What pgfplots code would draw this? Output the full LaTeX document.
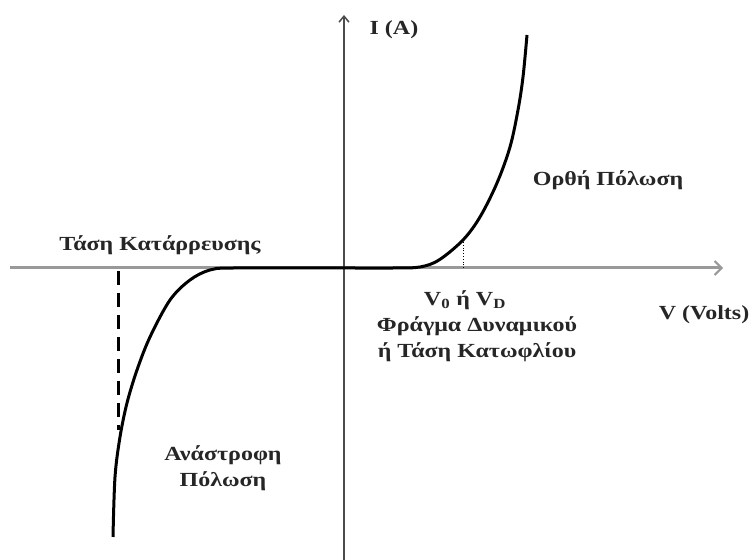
\documentclass[border=0pt]{standalone}
\usepackage{fontspec}
\setmainfont{Liberation Serif}
\usepackage{graphicx}
\usepackage{pgfplots}
\pgfplotsset{compat=1.18}
\usetikzlibrary{arrows.meta}
\newcommand\wide[1]{\scalebox{1.2}[1]{#1}}
\tikzset{lbl/.style={font=\fontsize{20bp}{26bp}\selectfont\bfseries, text=black!85, align=center, inner sep=0pt}}
\begin{document}
\begin{tikzpicture}
\begin{axis}[
  width=752bp, height=560bp, scale only axis,
  xmin=-344, xmax=408, ymin=-292, ymax=268,
  hide axis, clip=false,
]
% axes
\addplot[gray!80, line width=3bp, -{Straight Barb[length=7bp,width=14bp,line width=2bp]}]
  coordinates {(-334,0) (379,0)};
\addplot[black!70, line width=2bp, -{Straight Barb[length=6bp,width=10bp,line width=1.5bp]}]
  coordinates {(0,-292) (0,253)};
% breakdown voltage marker
\addplot[black, line width=3bp, dash pattern=on 14bp off 8bp]
  coordinates {(-226,-3) (-226,-162)};
% threshold voltage marker
\addplot[black, line width=0.8bp, dotted]
  coordinates {(119,0) (119,29)};
% diode characteristic
\addplot[black, line width=3bp, smooth, tension=0.55] coordinates {
  (-231,-269) (-229,-209) (-224,-169) (-217,-135) (-207,-102)
  (-194,-69) (-174,-32) (-154,-12) (-134,-2) (-110,0)
  (0,0) (50,0) (76,1) (95,8) (119,28) (136,51) (153,85)
  (166,121) (174,158) (179,191) (183,233)
};
% labels
\node[lbl] at (axis cs:50,238) {\wide{I (A)}};
\node[lbl] at (axis cs:264,88) {\wide{Ορθή Πόλωση}};
\node[lbl] at (axis cs:-184,23) {\wide{Τάση Κατάρρευσης}};
\node[lbl] at (axis cs:121,-32) {\wide{V\textsubscript{0} ή V\textsubscript{D}}};
\node[lbl] at (axis cs:133,-58) {\wide{Φράγμα Δυναμικού}};
\node[lbl] at (axis cs:133,-84) {\wide{ή Τάση Κατωφλίου}};
\node[lbl] at (axis cs:360,-47) {\wide{V (Volts)}};
\node[lbl] at (axis cs:-121,-200) {\wide{Ανάστροφη}\\\wide{Πόλωση}};
\end{axis}
\pgfresetboundingbox
\path (current axis.south west) rectangle (current axis.north east);
\end{tikzpicture}
\end{document}
